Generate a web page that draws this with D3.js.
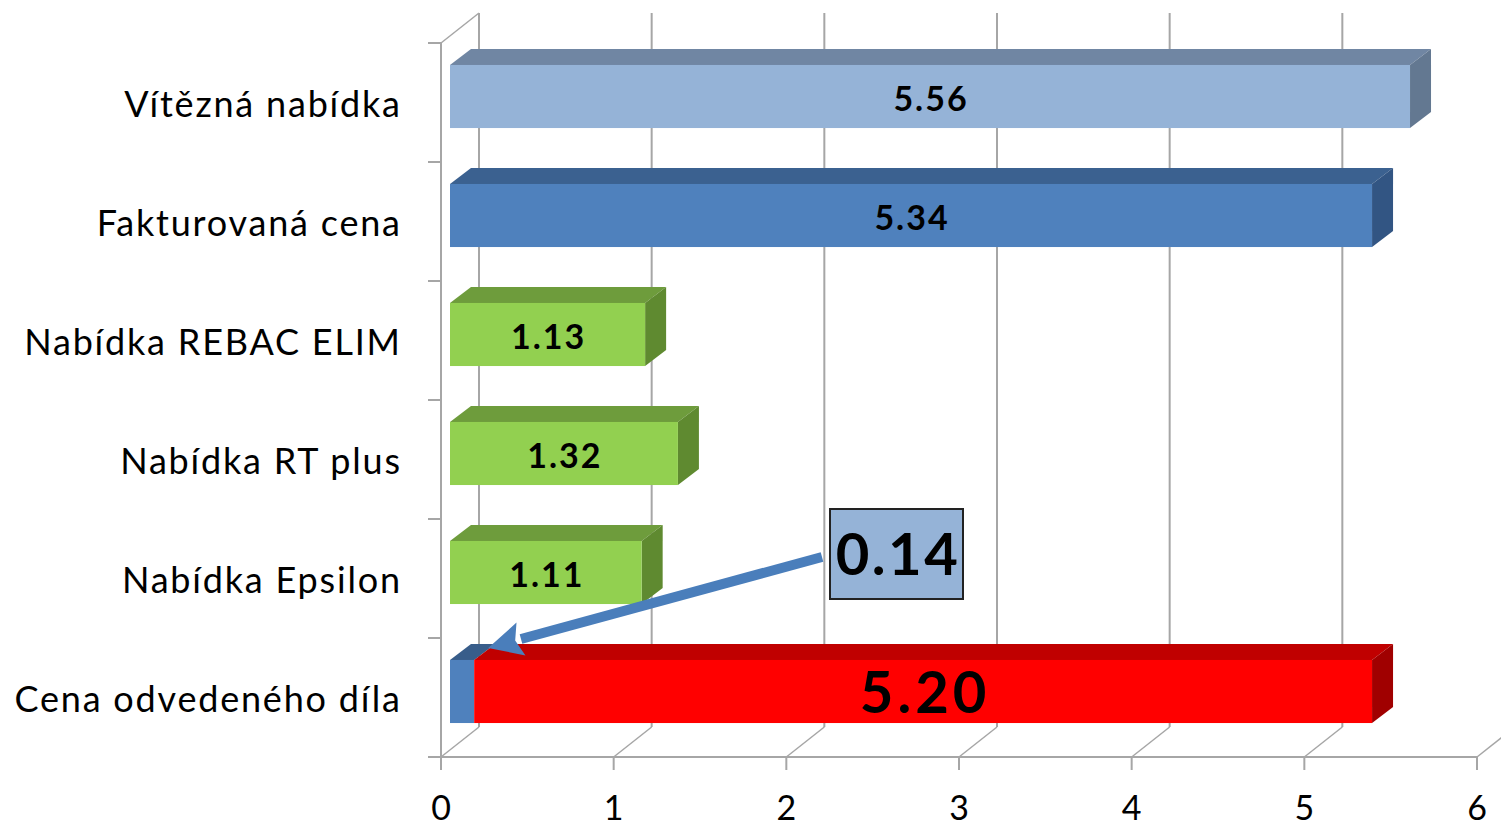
<!DOCTYPE html>
<html><head><meta charset="utf-8">
<script src="https://cdn.jsdelivr.net/npm/d3@7"></script>
<style>body{margin:0;background:#fff}svg{display:block}</style>
</head><body>
<svg id="c" width="1501" height="829"></svg>
<script>
const categories = ["Vítězná nabídka","Fakturovaná cena","Nabídka REBAC ELIM","Nabídka RT plus","Nabídka Epsilon","Cena odvedeného díla"];
const baseValues = [0,0,0,0,0,0.14];      // stacked first segment (blue)
const values = [5.56,5.34,1.13,1.32,1.11,5.20];
const valueLabels = ["5.56","5.34","1.13","1.32","1.11","5.20"];
const calloutValue = "0.14";
const xTicks = [0,1,2,3,4,5,6];
const fronts = ["#95b3d7","#4f81bd","#92d050","#92d050","#92d050","#ff0000"];
const tops   = ["#7086a3","#3b6190","#6e9c3c","#6e9c3c","#6e9c3c","#c00000"];
const sides  = ["#637891","#325583","#5f8a30","#5f8a30","#5f8a30","#a00000"];
const baseFront="#4f81bd", baseTop="#385d8a";

const svg = d3.select("#c");
const x = d3.scaleLinear().domain([0,6]).range([441,1477]);
const y = d3.scaleBand().domain(categories).range([43,757]).paddingInner(0.47).paddingOuter(0.235);
const wallDx=38, wallDy=-30;    // depth of walls
const barDx=21, barDy=-16;      // depth of bars
const offX=9, offY=-6;          // bar front offset into depth
const grid="#a6a6a6";
const font="Lato, 'Open Sans', sans-serif";
const g = svg.append("g");

xTicks.forEach(t=>{
  const fx=x(t), bx=fx+wallDx;
  g.append("line").attr("x1",bx).attr("y1",757+wallDy).attr("x2",bx).attr("y2",43+wallDy).attr("stroke",grid).attr("stroke-width",2);
  g.append("line").attr("x1",fx).attr("y1",757).attr("x2",bx).attr("y2",757+wallDy).attr("stroke",grid).attr("stroke-width",1.5);
  g.append("line").attr("x1",fx).attr("y1",757).attr("x2",fx).attr("y2",770).attr("stroke",grid).attr("stroke-width",2);
});
g.append("line").attr("x1",441).attr("y1",43).attr("x2",441).attr("y2",757).attr("stroke",grid).attr("stroke-width",2);
g.append("line").attr("x1",441).attr("y1",43).attr("x2",441+wallDx).attr("y2",43+wallDy).attr("stroke",grid).attr("stroke-width",1.5);
const step=y.step();
d3.range(categories.length+1).forEach(i=>{
  const yy=43+i*step;
  g.append("line").attr("x1",428).attr("y1",yy).attr("x2",441).attr("y2",yy).attr("stroke",grid).attr("stroke-width",2);
});
g.append("line").attr("x1",441).attr("y1",757).attr("x2",1477).attr("y2",757).attr("stroke",grid).attr("stroke-width",2);

function box(x0,x1,yt,h,front,top,side,drawSide){
  const bg=g.append("g");
  bg.append("path").attr("d",`M${x0},${yt}L${x0+barDx},${yt+barDy}L${x1+barDx},${yt+barDy}L${x1},${yt}Z`).attr("fill",top);
  if(drawSide) bg.append("path").attr("d",`M${x1},${yt}L${x1+barDx},${yt+barDy}L${x1+barDx},${yt+h+barDy}L${x1},${yt+h}Z`).attr("fill",side);
  bg.append("rect").attr("x",x0).attr("y",yt).attr("width",x1-x0).attr("height",h).attr("fill",front);
}
categories.forEach((c,i)=>{
  const yt=y(c)+offY, h=y.bandwidth();
  const xb=x(0)+offX, xs=x(baseValues[i])+offX, xe=x(baseValues[i]+values[i])+offX;
  if(baseValues[i]>0) box(xb,xs,yt,h,baseFront,baseTop,baseTop,false);
  box(xs,xe,yt,h,fronts[i],tops[i],sides[i],true);
  const big = i===categories.length-1;
  const ls = big?4:2;
  g.append("text").attr("x",(xs+xe)/2+ls/2).attr("y",yt+h/2+(big?7:6)).attr("text-anchor","middle").attr("dominant-baseline","middle")
    .attr("font-family",font).attr("font-weight","bold").attr("font-size",big?58:34).attr("letter-spacing",ls).attr("fill","#000").text(valueLabels[i]);
  g.append("text").attr("x",401.8).attr("y",y(c)+y.bandwidth()/2+5).attr("text-anchor","end").attr("dominant-baseline","middle")
    .attr("font-family",font).attr("font-size",36).attr("letter-spacing",1.8).attr("fill","#000").text(c);
});

xTicks.forEach(t=>{
  g.append("text").attr("x",x(t)).attr("y",811).attr("text-anchor","middle").attr("dominant-baseline","middle")
   .attr("font-family",font).attr("font-size",34).attr("fill","#000").text(t);
});

const lastC=categories[categories.length-1];
const tipX=x(baseValues[5])+offX+14, tipY=y(lastC)+offY-12;
const sx=822, sy=557;
const ang=Math.atan2(tipY-sy,tipX-sx);
const hl=34, hw=17;
const bx=tipX-hl*Math.cos(ang), by=tipY-hl*Math.sin(ang);
g.append("line").attr("x1",sx).attr("y1",sy).attr("x2",bx).attr("y2",by).attr("stroke","#4a7ebb").attr("stroke-width",10);
const px=-Math.sin(ang), py=Math.cos(ang);
g.append("path").attr("d",`M${tipX},${tipY}L${bx+px*hw},${by+py*hw}L${bx+6*Math.cos(ang)},${by+6*Math.sin(ang)}L${bx-px*hw},${by-py*hw}Z`).attr("fill","#4a7ebb");
g.append("rect").attr("x",830).attr("y",509).attr("width",133).attr("height",90).attr("fill","#95b3d7").attr("stroke","#222").attr("stroke-width",2);
g.append("text").attr("x",898).attr("y",560).attr("text-anchor","middle").attr("dominant-baseline","middle")
  .attr("font-family",font).attr("font-weight","bold").attr("font-size",58).attr("letter-spacing",2.5).attr("fill","#000").text(calloutValue);
</script>
</body></html>
